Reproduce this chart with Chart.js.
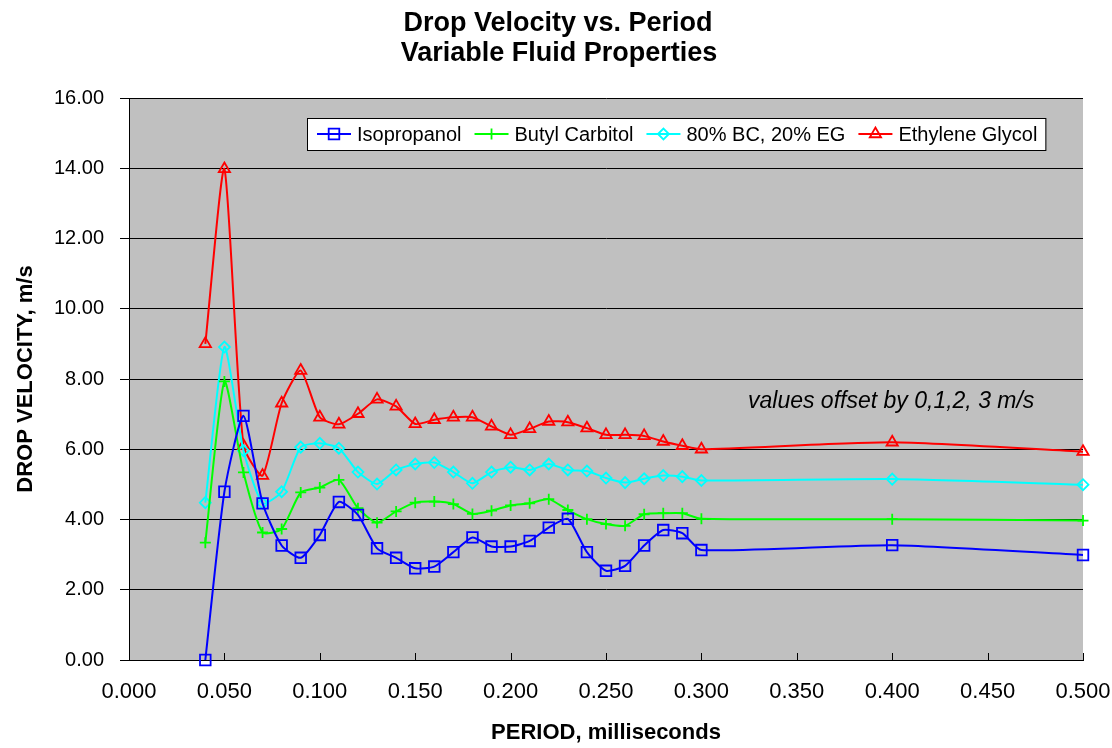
<!DOCTYPE html>
<html>
<head>
<meta charset="utf-8">
<title>Drop Velocity vs. Period</title>
<script src="https://cdn.jsdelivr.net/npm/chart.js@4.4.1/dist/chart.umd.min.js"></script>
<style>
  html, body { margin: 0; padding: 0; background: #fff; }
  #wrap { width: 1112px; height: 748px; }
</style>
</head>
<body>
<div id="wrap"><canvas id="chart" width="1112" height="748"></canvas></div>
<script>
// Drop velocity vs. period for four fluids (values offset by 0,1,2,3 m/s).

const FONT = '"Liberation Sans", Arial, sans-serif';

/* ------------------------------ Data ---------------------------------- */

const periods = [0.04, 0.05, 0.06, 0.07, 0.08, 0.09, 0.10, 0.11, 0.12, 0.13,
  0.14, 0.15, 0.16, 0.17, 0.18, 0.19, 0.20, 0.21, 0.22, 0.23,
  0.24, 0.25, 0.26, 0.27, 0.28, 0.29, 0.30, 0.40, 0.50];

const isopropanol = [0.00, 4.79, 6.95, 4.46, 3.26, 2.91, 3.56, 4.50, 4.13, 3.18,
  2.91, 2.61, 2.66, 3.07, 3.49, 3.23, 3.23, 3.39, 3.77, 4.02,
  3.07, 2.54, 2.68, 3.26, 3.70, 3.61, 3.13, 3.27, 2.99];

const butylCarbitol = [3.34, 7.93, 5.34, 3.63, 3.73, 4.77, 4.91, 5.13, 4.32, 3.91,
  4.23, 4.48, 4.51, 4.44, 4.16, 4.25, 4.40, 4.46, 4.58, 4.27,
  4.01, 3.87, 3.82, 4.15, 4.18, 4.18, 4.02, 4.01, 3.97];

const bcEgMix = [4.48, 8.91, 5.96, 4.46, 4.79, 6.06, 6.17, 6.03, 5.35, 5.01,
  5.41, 5.58, 5.62, 5.35, 5.03, 5.35, 5.49, 5.41, 5.58, 5.41,
  5.38, 5.18, 5.05, 5.16, 5.25, 5.22, 5.11, 5.15, 4.99];

const ethyleneGlycol = [9.00, 13.98, 6.10, 5.25, 7.31, 8.24, 6.91, 6.71, 7.01, 7.42,
  7.22, 6.72, 6.84, 6.91, 6.91, 6.65, 6.41, 6.58, 6.79, 6.77,
  6.60, 6.41, 6.41, 6.38, 6.22, 6.10, 6.00, 6.20, 5.93];

const seriesNames = ["Isopropanol", "Butyl Carbitol", "80% BC, 20% EG", "Ethylene Glycol"];
const titleLines = ["Drop Velocity vs. Period", "Variable Fluid Properties"];
const noteText = "values offset by 0,1,2, 3 m/s";

/* ---------------------------- Helpers --------------------------------- */

function toPoints(values) {
  return periods.map((p, i) => ({ x: p, y: values[i] }));
}

function makeSeries(label, values, color, pointStyle, radius) {
  return {
    label,
    data: toPoints(values),
    borderColor: color,
    backgroundColor: "rgba(0,0,0,0)",
    borderWidth: 2,
    pointStyle,
    pointRadius: radius,
    pointHoverRadius: radius,
    pointBorderColor: color,
    pointBackgroundColor: "rgba(0,0,0,0)",
    pointBorderWidth: 1.8,
    tension: 0.2,
    clip: false
  };
}

/* ---------------------------- Plugins --------------------------------- */

// gray plot area behind the grid
const plotBackground = {
  id: "plotBackground",
  beforeDraw(chart) {
    const { ctx, chartArea: a } = chart;
    ctx.save();
    ctx.fillStyle = "#C0C0C0";
    ctx.fillRect(a.left, a.top, a.right - a.left, a.bottom - a.top);
    ctx.restore();
  }
};

// Excel style inside tick marks on the x axis
const insideTicks = {
  id: "insideTicks",
  beforeDatasetsDraw(chart) {
    const { ctx, scales: { x }, chartArea: a } = chart;
    ctx.save();
    ctx.strokeStyle = "#000";
    ctx.lineWidth = 1;
    x.ticks.forEach((t) => {
      const px = Math.round(x.getPixelForValue(t.value)) + 0.5;
      ctx.beginPath();
      ctx.moveTo(px, a.bottom);
      ctx.lineTo(px, a.bottom - 7);
      ctx.stroke();
    });
    ctx.restore();
  }
};

// title, legend box and the offset note
const decorations = {
  id: "decorations",
  afterDraw(chart) {
    const { ctx } = chart;
    ctx.save();

    ctx.fillStyle = "#000";
    ctx.textAlign = "center";
    ctx.textBaseline = "middle";
    ctx.font = "bold 27px " + FONT;
    ctx.fillText(titleLines[0], 558, 24);
    ctx.fillText(titleLines[1], 559, 54);

    ctx.textAlign = "left";
    ctx.font = "italic 23px " + FONT;
    ctx.fillText(noteText, 748, 402);

    // legend
    ctx.font = "20px " + FONT;
    const top = 118, h = 32, cy = top + h / 2;
    let x = 317;
    const parts = chart.data.datasets.map((ds) => {
      const start = x;
      const w = ctx.measureText(ds.label).width;
      x += 34 + 6 + w + 13;
      return { ds, start };
    });
    const boxLeft = 307, boxRight = x - 5;
    ctx.fillStyle = "#fff";
    ctx.fillRect(boxLeft, top, boxRight - boxLeft, h);
    ctx.strokeStyle = "#000";
    ctx.lineWidth = 1;
    ctx.strokeRect(boxLeft + 0.5, top + 0.5, boxRight - boxLeft, h);

    parts.forEach(({ ds, start }) => {
      ctx.strokeStyle = ds.borderColor;
      ctx.lineWidth = 2;
      ctx.beginPath();
      ctx.moveTo(start, cy);
      ctx.lineTo(start + 34, cy);
      ctx.stroke();
      ctx.fillStyle = "rgba(0,0,0,0)";
      ctx.lineWidth = ds.pointBorderWidth;
      Chart.helpers.drawPoint(ctx, {
        pointStyle: ds.pointStyle,
        radius: ds.pointRadius,
        rotation: 0,
        borderWidth: ds.pointBorderWidth
      }, start + 17, cy);
      ctx.fillStyle = "#000";
      ctx.fillText(ds.label, start + 40, cy + 1);
    });

    ctx.restore();
  }
};

/* ----------------------------- Chart ---------------------------------- */

new Chart(document.getElementById("chart"), {
  type: "line",
  data: {
    datasets: [
      makeSeries(seriesNames[0], isopropanol, "#0000FF", "rect", 7.5),
      makeSeries(seriesNames[1], butylCarbitol, "#00FF00", "cross", 5.5),
      makeSeries(seriesNames[2], bcEgMix, "#00FFFF", "rectRot", 5.5),
      makeSeries(seriesNames[3], ethyleneGlycol, "#FF0000", "triangle", 6.5)
    ]
  },
  options: {
    responsive: false,
    devicePixelRatio: 1,
    animation: false,
    layout: { padding: { top: 98, right: 29, bottom: 0, left: 0 }, autoPadding: false },
    plugins: {
      legend: { display: false },
      title: { display: false },
      tooltip: { enabled: false }
    },
    scales: {
      x: {
        type: "linear",
        min: 0,
        max: 0.5,
        afterFit(scale) {
          scale.height = 88;
          scale.paddingLeft = 0;
          scale.paddingRight = 0;
        },
        grid: { display: false },
        border: { display: true, color: "#000", width: 1 },
        ticks: {
          stepSize: 0.05,
          color: "#000",
          font: { family: FONT, size: 22 },
          padding: 11,
          maxRotation: 0,
          callback: (v) => Number(v).toFixed(3)
        },
        title: {
          display: true,
          text: "PERIOD, milliseconds",
          color: "#000",
          font: { family: FONT, size: 22, weight: "bold" },
          padding: { top: 0, bottom: 2 }
        }
      },
      y: {
        min: 0,
        max: 16,
        afterFit(scale) {
          scale.width = 129;
          scale.paddingTop = 0;
          scale.paddingBottom = 0;
        },
        grid: { color: "#000", lineWidth: 1, tickLength: 9 },
        border: { display: true, color: "#000", width: 1 },
        ticks: {
          stepSize: 2,
          color: "#000",
          font: { family: FONT, size: 20 },
          padding: 16,
          callback: (v) => Number(v).toFixed(2)
        },
        title: {
          display: true,
          text: "DROP VELOCITY, m/s",
          color: "#000",
          font: { family: FONT, size: 22, weight: "bold" },
          padding: { top: 13, bottom: 0 }
        }
      }
    }
  },
  plugins: [plotBackground, insideTicks, decorations]
});
</script>
</body>
</html>
